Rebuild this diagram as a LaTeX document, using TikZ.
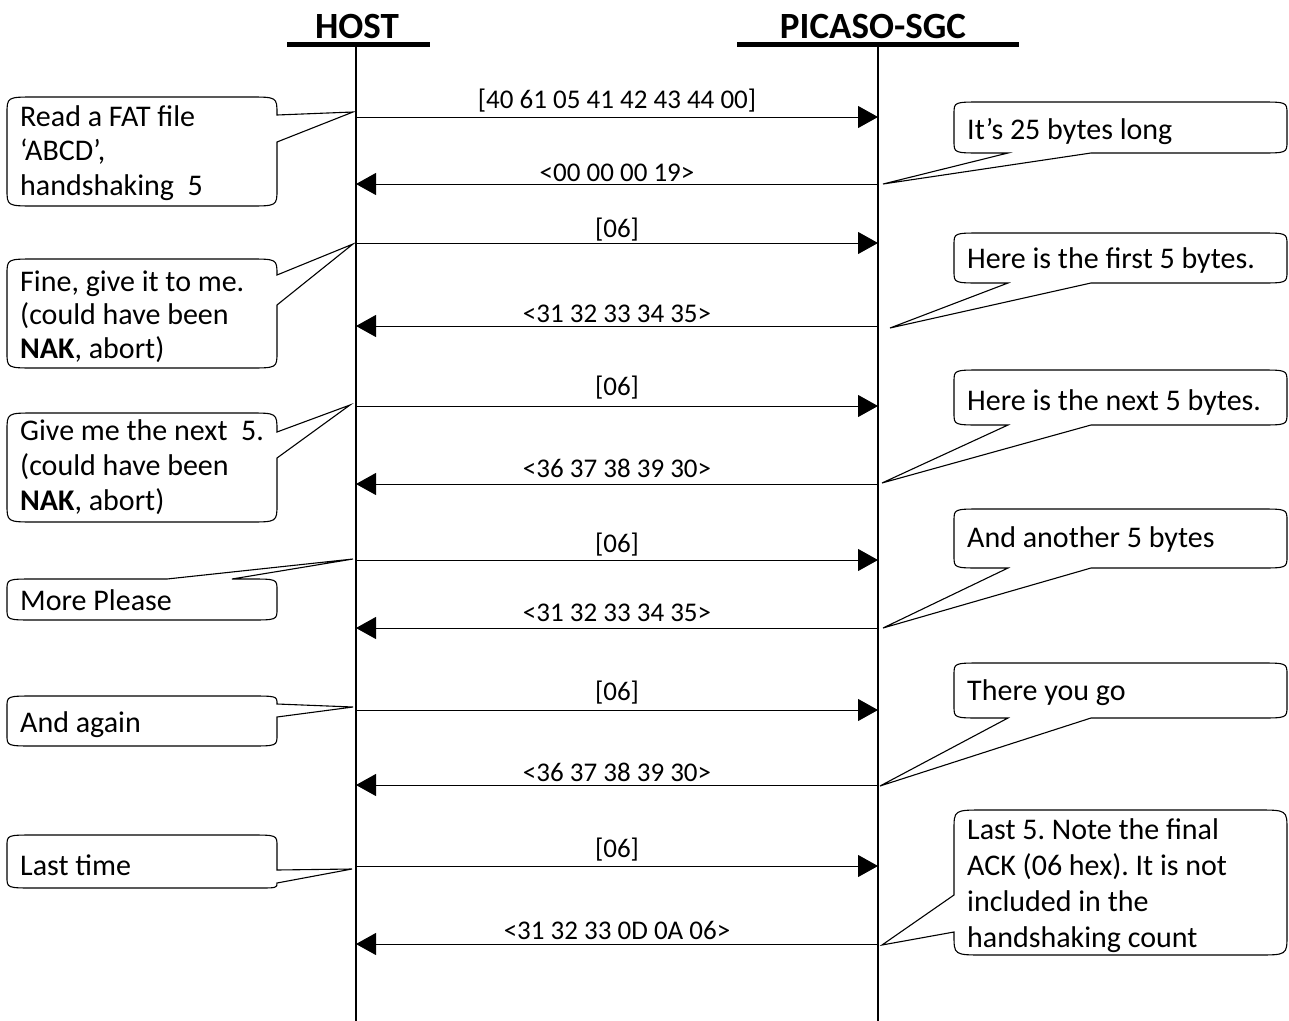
\documentclass[tikz,border=0pt]{standalone}
\usepackage{fontspec}
\setmainfont{Carlito}
\usetikzlibrary{arrows.meta}
\begin{document}
\begin{tikzpicture}[x=1bp,y=-1bp,
  msg/.style={-{Triangle[length=20bp,width=22bp]}, line width=1bp},
  lbl/.style={anchor=base, inner sep=0pt, font=\fontsize{27bp}{32bp}\selectfont},
  ctext/.style={anchor=base west, inner sep=0pt},
  bubble/.style={draw, line width=1.1bp, line join=miter},
  life/.style={line width=1.2bp},
  hdr/.style={anchor=base, inner sep=0pt, font=\fontsize{37bp}{44bp}\selectfont\bfseries},
  hbar/.style={line width=5bp}
]
\useasboundingbox (0,0) rectangle (1289,1021);
\newcommand{\ctxt}[2]{\parbox[t]{340bp}{\fontsize{30bp}{#1}\selectfont\frenchspacing\raggedright #2}}
% right callout with tail on its bottom edge: top, bottom, tip x, tip y
\newcommand{\myRcall}[4]{%
  \draw[bubble] (1008,#2) -- (982,#2) .. controls (954,#2) .. (954,{#2-12})
    -- (954,{#1+12}) .. controls (954,#1) .. (982,#1) -- (1259,#1)
    .. controls (1287,#1) .. (1287,{#1+12}) -- (1287,{#2-12})
    .. controls (1287,#2) .. (1259,#2) -- (1091,#2) -- (#3,#4) -- cycle;}

% headers
\node[hdr] (host) at (357,38) {HOST};
\node[hdr] (pic) at (873,38) {PICASO-SGC};
\coordinate (hb1) at (287,44.5); \coordinate (hb2) at (430,44.5);
\coordinate (pb1) at (737,44.5); \coordinate (pb2) at (1019,44.5);
\draw[hbar] (hb1) -- (hb2);
\draw[hbar] (pb1) -- (pb2);

% lifelines
\coordinate (htop) at (356,47); \coordinate (hbot) at (356,1021);
\coordinate (ptop) at (878,47); \coordinate (pbot) at (878,1021);
\draw[life] (htop) -- (hbot);
\draw[life] (ptop) -- (pbot);

% message end points
\foreach \n/\y in {1/117,2/184,3/243,4/326,5/406,6/484,7/560,8/628,9/710,10/785,11/866,12/944}{
  \coordinate (h\n) at (356,\y);
  \coordinate (p\n) at (878,\y);
}
\draw[msg] (h1) -- (p1);
\draw[msg] (p2) -- (h2);
\draw[msg] (h3) -- (p3);
\draw[msg] (p4) -- (h4);
\draw[msg] (h5) -- (p5);
\draw[msg] (p6) -- (h6);
\draw[msg] (h7) -- (p7);
\draw[msg] (p8) -- (h8);
\draw[msg] (h9) -- (p9);
\draw[msg] (p10) -- (h10);
\draw[msg] (h11) -- (p11);
\draw[msg] (p12) -- (h12);

% message labels
\node[lbl] (l1) at (617,108) {[40 61 05 41 42 43 44 00]};
\node[lbl] (l2) at (617,181) {<00 00 00 19>};
\node[lbl] (l3) at (617,237) {[06]};
\node[lbl] (l4) at (617,322) {<31 32 33 34 35>};
\node[lbl] (l5) at (617,395) {[06]};
\node[lbl] (l6) at (617,477) {<36 37 38 39 30>};
\node[lbl] (l7) at (617,552) {[06]};
\node[lbl] (l8) at (617,621) {<31 32 33 34 35>};
\node[lbl] (l9) at (617,700) {[06]};
\node[lbl] (l10) at (617,781) {<36 37 38 39 30>};
\node[lbl] (l11) at (617,857) {[06]};
\node[lbl] (l12) at (617,939) {<31 32 33 0D 0A 06>};

% ---- left callouts ----
\draw[bubble] (277,142) -- (277,189) .. controls (277,206) .. (249,206) -- (35,206)
  .. controls (7,206) .. (7,189) -- (7,114) .. controls (7,97) .. (35,97) -- (249,97)
  .. controls (277,97) .. (277,114) -- (277,115) -- (353,112) -- cycle;
\node[ctext] (cl1) at (20,126) {\ctxt{34.5bp}{Read a FAT file\\‘ABCD’,\\handshaking~ 5}};

\draw[bubble] (277,305) -- (277,352) .. controls (277,368) .. (249,368) -- (35,368)
  .. controls (7,368) .. (7,352) -- (7,275) .. controls (7,259) .. (35,259) -- (249,259)
  .. controls (277,259) .. (277,275) -- (353,244) -- cycle;
\node[ctext] (cl2) at (20,291) {\ctxt{33.5bp}{Fine, give it to me.\\(could have been\\\textbf{NAK}, abort)}};

\draw[bubble] (277,458) -- (277,504) .. controls (277,522) .. (249,522) -- (35,522)
  .. controls (7,522) .. (7,504) -- (7,431) .. controls (7,413) .. (35,413) -- (249,413)
  .. controls (277,413) .. (277,431) -- (277,432) -- (350,405) -- cycle;
\node[ctext] (cl3) at (20,440) {\ctxt{35bp}{Give me the next~ 5.\\(could have been\\\textbf{NAK}, abort)}};

\draw[bubble] (232,579) -- (249,579) .. controls (277,579) .. (277,590) -- (277,609)
  .. controls (277,620) .. (249,620) -- (35,620) .. controls (7,620) .. (7,609)
  -- (7,590) .. controls (7,579) .. (35,579) -- (167,579) -- (353,559) -- cycle;
\node[ctext] (cl4) at (20,610) {\ctxt{34bp}{More Please}};

\draw[bubble] (277,717) -- (277,735) .. controls (277,746) .. (249,746) -- (35,746)
  .. controls (7,746) .. (7,735) -- (7,707) .. controls (7,696) .. (35,696) -- (249,696)
  .. controls (277,696) .. (277,704) -- (353,707) -- cycle;
\node[ctext] (cl5) at (20,732) {\ctxt{34bp}{And again}};

\draw[bubble] (277,883) .. controls (277,888) .. (257,888) -- (35,888)
  .. controls (7,888) .. (7,877) -- (7,846) .. controls (7,835) .. (35,835) -- (249,835)
  .. controls (277,835) .. (277,846) -- (277,870) -- (352,869) -- cycle;
\node[ctext] (cl6) at (20,875) {\ctxt{34bp}{Last time}};

% ---- right callouts ----
\myRcall{102}{153}{883}{184}
\node[ctext] (cr1) at (967,139) {\ctxt{34bp}{It’s 25 bytes long}};

\myRcall{233}{283}{890}{328}
\node[ctext] (cr2) at (967,268) {\ctxt{34bp}{Here is the first 5 bytes.}};

\myRcall{370}{425}{882}{483}
\node[ctext] (cr3) at (967,410) {\ctxt{34bp}{Here is the next 5 bytes.}};

\myRcall{509}{568}{883}{628}
\node[ctext] (cr4) at (967,547) {\ctxt{34bp}{And another 5 bytes}};

\myRcall{663}{718}{880}{786}
\node[ctext] (cr5) at (967,700) {\ctxt{34bp}{There you go}};

\draw[bubble] (954,895) -- (954,830) .. controls (954,810) .. (984,810) -- (1257,810)
  .. controls (1287,810) .. (1287,830) -- (1287,935) .. controls (1287,955) .. (1257,955)
  -- (984,955) .. controls (954,955) .. (954,935) -- (954,932) -- (882,945) -- cycle;
\node[ctext] (cr6) at (967,839) {\ctxt{36bp}{Last 5. Note the final\\ACK (06 hex). It is not\\included in the\\handshaking count}};
\end{tikzpicture}
\end{document}
